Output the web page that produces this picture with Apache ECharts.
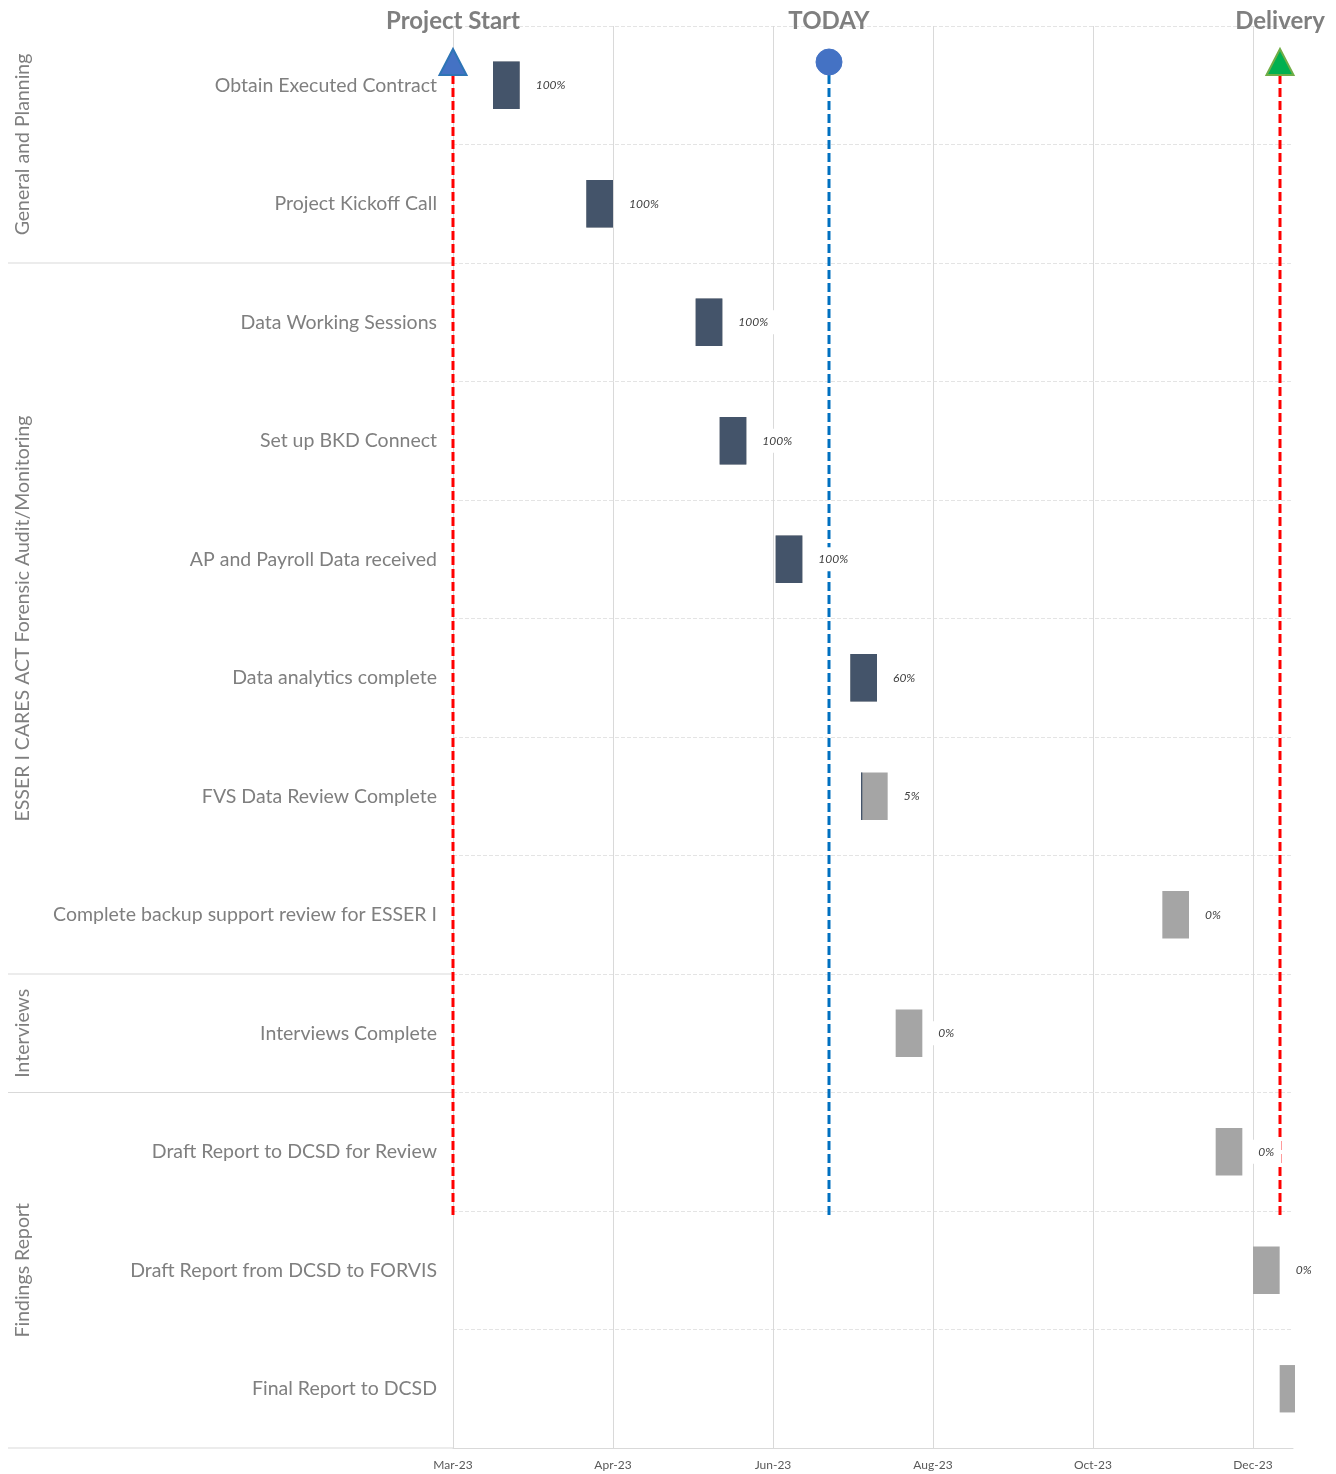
<!DOCTYPE html>
<html><head><meta charset="utf-8">
<script src="https://cdn.jsdelivr.net/npm/echarts@6/dist/echarts.min.js"></script>
<style>html,body{margin:0;padding:0;background:#fff}#c{width:1336px;height:1474px}</style>
</head><body><div id="c"></div><script>
// ---- data ----
const tasks = ['Obtain Executed Contract','Project Kickoff Call','Data Working Sessions','Set up BKD Connect','AP and Payroll Data received','Data analytics complete','FVS Data Review Complete','Complete backup support review for ESSER I','Interviews Complete','Draft Report to DCSD for Review','Draft Report from DCSD to FORVIS','Final Report to DCSD'];
const taskStart = ['2023-03-16','2023-04-20','2023-05-31','2023-06-09','2023-06-30','2023-07-28','2023-08-01','2023-11-22','2023-08-14','2023-12-12','2023-12-26','2024-01-05'];
const taskDays = [10,10,10,10,10,10,10,10,10,10,10,10];
const doneDays = [10,10,10,10,10,10,0.5,0,0,0,0,0];
const progress = ['100%','100%','100%','100%','100%','60%','5%','0%','0%','0%','0%','0%'];
const groupNames = ['General and Planning','ESSER I CARES ACT Forensic Audit/Monitoring','Interviews','Findings Report'];
const groupSizes = [2,6,1,3];
const milestoneNames = ['Project Start','TODAY','Delivery'];
const milestoneDates = ['2023-03-01','2023-07-20','2024-01-05'];
const axisStart = '2023-03-01';
const axisSpanDays = 315;
const tickDays = 60;
const monthNames = ['Jan','Feb','Mar','Apr','May','Jun','Jul','Aug','Sep','Oct','Nov','Dec'];

// ---- helpers ----
const DAY = 86400000;
const t0 = Date.parse(axisStart);
const FONT = 'Lato, "Open Sans", sans-serif';

const taskData = tasks.map((t,i)=>{
  const s = Date.parse(taskStart[i]);
  return [i, s, s + taskDays[i]*DAY, s + doneDays[i]*DAY];
});
let acc = 0;
const groupData = groupNames.map((g,i)=>{ const r=[acc, acc+groupSizes[i]-1]; acc+=groupSizes[i]; return r; });
const msStyles = [
  {symbol:'triangle', fill:'#4472c4', stroke:'#2e75b6', line:'#ff0000'},
  {symbol:'circle', fill:'#4472c4', stroke:'#4472c4', line:'#0070c0'},
  {symbol:'triangle', fill:'#00b050', stroke:'#70ad47', line:'#ff0000'}
];
const msData = milestoneNames.map((n,i)=>[Date.parse(milestoneDates[i]), 0]);

function clipR(r, cs){ return echarts.graphic.clipRectByRect(r, {x:cs.x,y:cs.y,width:cs.width,height:cs.height}); }

function renderTask(params, api){
  const i = params.dataIndex;
  const cat = api.value(0);
  const p0 = api.coord([api.value(1), cat]);
  const p1 = api.coord([api.value(2), cat]);
  const pd = api.coord([api.value(3), cat]);
  const bh = api.size([0,1])[1]*0.4;
  const cs = params.coordSys;
  const ch = [];
  const full = clipR({x:p0[0], y:p0[1]-bh/2, width:p1[0]-p0[0], height:bh}, {x:cs.x, y:cs.y, width:cs.width+2, height:cs.height});
  if(full) ch.push({type:'rect', shape:full, style:{fill:'#a5a5a5'}});
  if(pd[0]>p0[0]){
    const dr = clipR({x:p0[0], y:p0[1]-bh/2, width:pd[0]-p0[0], height:bh}, cs);
    if(dr) ch.push({type:'rect', shape:dr, style:{fill:'#44546a'}});
  }
  if(p1[0] <= cs.x + cs.width + 1){
    ch.push({type:'text', x:p1[0]+9, y:p0[1], z2:10, style:{text: progress[i], font:'italic 12px '+FONT, fill:'#404040', backgroundColor:'#ffffff', padding:[6,7], align:'left', verticalAlign:'middle'}});
  }
  return {type:'group', children: ch};
}

function renderGroup(params, api){
  const a = api.coord([t0, api.value(0)]);
  const b = api.coord([t0, api.value(1)]);
  const bandH = api.size([0,1])[1];
  const cs = params.coordSys;
  const yBottom = b[1] + bandH/2;
  return {type:'group', children:[
    {type:'line', shape:{x1:8, y1:yBottom, x2:cs.x, y2:yBottom}, style:{stroke:'#d9d9d9', lineWidth:1}},
    {type:'text', x:23, y:(a[1]+b[1])/2, rotation:Math.PI/2, style:{text: groupNames[params.dataIndex], font:'19.5px '+FONT, fill:'#7f7f7f', align:'center', verticalAlign:'middle'}}
  ]};
}

function renderMilestone(params, api){
  const i = params.dataIndex;
  const st = msStyles[i];
  const p = api.coord([api.value(0), 0]);
  const cs = params.coordSys;
  const x = Math.round(p[0]);
  const yTop = cs.y + 36, yBot = cs.y + 1191;
  const ch = [
    {type:'line', shape:{x1:x, y1:yTop, x2:x, y2:yBot}, style:{stroke:st.line, lineWidth:3, lineDash:[9,4]}},
    {type:'text', x:x, y:cs.y-5, style:{text: milestoneNames[i], font:'bold 24px '+FONT, fill:'#7f7f7f', align:'center', verticalAlign:'middle'}}
  ];
  if(st.symbol==='circle'){
    ch.push({type:'circle', shape:{cx:x, cy:yTop, r:13}, style:{fill:st.fill, stroke:st.stroke, lineWidth:1}});
  } else {
    ch.push({type:'polygon', shape:{points:[[x, yTop-13],[x+13.5, yTop+13],[x-13.5, yTop+13]]}, style:{fill:st.fill, stroke:st.stroke, lineWidth:2}});
  }
  return {type:'group', children: ch};
}

const chart = echarts.init(document.getElementById('c'), null, {renderer:'canvas'});
chart.setOption({
  animation:false,
  backgroundColor:'#ffffff',
  grid:{left:453, right:43, top:26, bottom:26, containLabel:false},
  xAxis:{
    type:'value', min:t0, max:t0+axisSpanDays*DAY, interval:tickDays*DAY,
    axisLine:{show:true, lineStyle:{color:'#d9d9d9'}},
    axisTick:{show:false},
    splitLine:{show:true, showMaxLine:false, lineStyle:{color:'#d9d9d9', width:1}},
    axisLabel:{color:'#595959', fontSize:12, fontFamily:FONT, margin:11, showMaxLabel:false,
      formatter:(v)=>{ const off=Math.round((v-t0)/DAY); if(off%tickDays!==0) return ''; const d=new Date(v); return monthNames[d.getUTCMonth()]+'-'+String(d.getUTCFullYear()).slice(2);} }
  },
  yAxis:{
    type:'category', data:tasks, inverse:true,
    axisLine:{show:false}, axisTick:{show:false},
    splitLine:{show:true, lineStyle:{color:'#e4e4e4', type:[4,2], width:1}},
    axisLabel:{color:'#7f7f7f', fontSize:19.5, fontFamily:FONT, margin:16}
  },
  series:[
    {type:'custom', name:'groups', renderItem:renderGroup, data:groupData, clip:false, silent:true, z:1,
      encode:{y:[0,1]}},
    {type:'custom', name:'milestones', renderItem:renderMilestone, data:msData, clip:false, silent:true, z:2,
      encode:{x:0}},
    {type:'custom', name:'tasks', renderItem:renderTask, data:taskData, clip:false, silent:true, z:3,
      encode:{x:[1,2], y:0}}
  ]
});
</script></body></html>
